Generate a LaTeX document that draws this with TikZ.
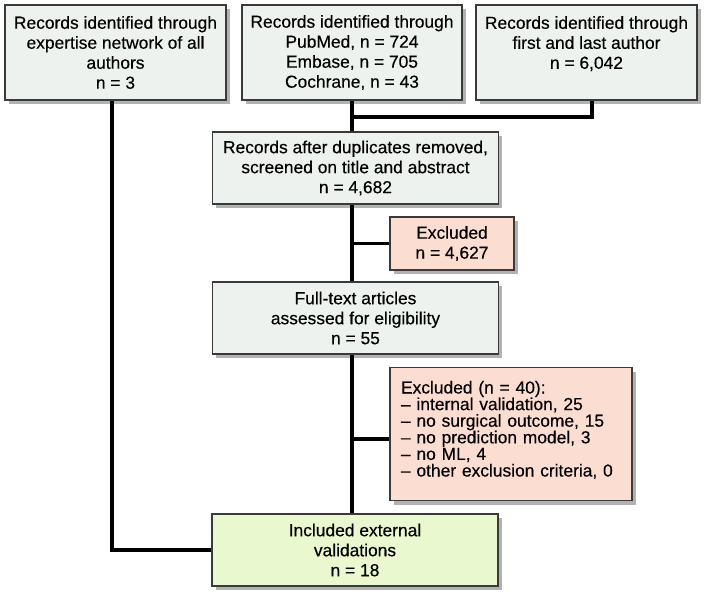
\documentclass[tikz,border=0pt]{standalone}
\usepackage{fontspec}
\setmainfont{Liberation Sans}
\newfontfamily\boxfont[FakeBold=0.35]{Liberation Sans}
\usetikzlibrary{shadows}
\definecolor{boxgray}{HTML}{EEF2EE}
\definecolor{boxpink}{HTML}{FCDDD2}
\definecolor{boxgreen}{HTML}{EAF8CF}
\definecolor{edge}{HTML}{3A3A3A}
\begin{document}
\begin{tikzpicture}[x=1pt,y=-1pt,
  box/.style={draw=edge, line width=1.5pt, fill=boxgray, rectangle, align=center,
    inner sep=2pt, font=\boxfont\fontsize{17.4}{20}\selectfont,
    drop shadow={shadow xshift=3.5pt, shadow yshift=-4pt, fill=black, opacity=0.3}},
  conn/.style={line width=3.5pt, draw=black}]
\useasboundingbox (0,0) rectangle (713,602);
\node[box, minimum width=221pt, minimum height=95pt] (A) at (115.5,52.5)
  {Records identified through\\expertise network of all\\authors\\n = 3};
\node[box, minimum width=220pt, minimum height=95pt] (B) at (352,52.5)
  {Records identified through\\PubMed, n = 724\\Embase, n = 705\\Cochrane, n = 43};
\node[box, minimum width=221pt, minimum height=95pt] (C) at (586.5,52.5)
  {Records identified through\\first and last author\\n = 6,042\\~};
\node[box, minimum width=286pt, minimum height=72pt] (D) at (355.5,168)
  {Records after duplicates removed,\\screened on title and abstract\\n = 4,682};
\node[box, fill=boxpink, minimum width=124pt, minimum height=53pt] (X1) at (452,243.5)
  {Excluded\\n = 4,627};
\node[box, minimum width=286pt, minimum height=72pt] (E) at (355.5,318)
  {Full-text articles\\assessed for eligibility\\n = 55};
\node[box, fill=boxpink, align=left, minimum width=242pt, minimum height=133pt, text width=220pt,
  inner xsep=11pt, font=\boxfont\fontsize{17.4}{16.6}\selectfont] (X2) at (511,434)
  {Excluded (n = 40):\\– internal validation, 25\\– no surgical outcome, 15\\– no prediction model, 3\\– no ML, 4\\– other exclusion criteria, 0\\[-6pt]~};
\node[box, fill=boxgreen, minimum width=286pt, minimum height=72pt] (F) at (355,550)
  {Included external\\validations\\n = 18};
\coordinate (j) at (352,117);
\coordinate (cs) at (592,100);
\draw[conn] ([xshift=-3.5pt]A.south) |- (F.west);
\draw[conn] (B.south) -- (D.north -| j);
\draw[conn] (C.south -| cs) |- (j);
\draw[conn] (D.south -| j) -- (E.north -| j);
\draw[conn] (X1.west) -- (X1.west -| j);
\draw[conn] (E.south -| j) -- (F.north -| j);
\draw[conn] ([yshift=-5pt]X2.west) -- ([yshift=-5pt]X2.west -| j);
\end{tikzpicture}
\end{document}
